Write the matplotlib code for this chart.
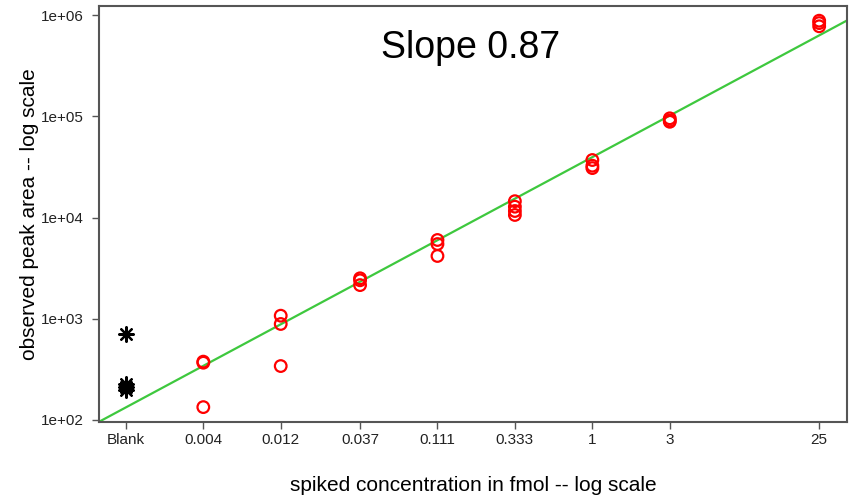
import numpy as np
import matplotlib
matplotlib.use("Agg")
import matplotlib.pyplot as plt

plt.rcParams['font.family'] = ['Liberation Sans', 'DejaVu Sans']

# Data
tick_labels = ["Blank", "0.004", "0.012", "0.037", "0.111", "0.333", "1", "3", "25"]
tick_values = [0.004 / 3, 0.004, 0.012, 0.037, 0.111, 0.333, 1.0, 3.0, 25.0]

blank_x = [0.004 / 3] * 4
blank_y = [706, 225, 212, 200]

spiked_x = [0.004, 0.004, 0.004,
            0.012, 0.012, 0.012,
            0.037, 0.037, 0.037,
            0.111, 0.111, 0.111,
            0.333, 0.333, 0.333, 0.333,
            1, 1, 1,
            3, 3, 3,
            25, 25, 25]
spiked_y = [377, 368, 134,
            1072, 888, 341,
            2510, 2400, 2150,
            6000, 5470, 4170,
            14500, 12800, 11600, 10600,
            37000, 32500, 30800,
            95500, 91000, 88300,
            880000, 834000, 775000]

fit_slope = 0.86
fit_at_one = 10 ** 4.597

xlim = (0.00091, 37.1)
ylim = (95.5, 1.23e6)

fig = plt.figure(figsize=(8.54, 4.98), dpi=100)
ax = fig.add_axes([0.1159, 0.1526, 0.9918 - 0.1159, 0.988 - 0.1526])
ax.set_xscale('log')
ax.set_yscale('log')
ax.set_xlim(*xlim)
ax.set_ylim(*ylim)

xs = np.array(xlim)
ax.plot(xs, fit_at_one * xs ** fit_slope, color='#3ec83e', lw=1.6, zorder=2)

ax.scatter(spiked_x, spiked_y, s=70, facecolors='none', edgecolors='#ff0000',
           linewidths=1.6, zorder=3)
ax.scatter(blank_x, blank_y, s=110, marker=(8, 2, 0), color='black',
           linewidths=1.6, zorder=3)

ax.set_xticks(tick_values)
ax.set_xticklabels(tick_labels)
ax.xaxis.set_minor_locator(matplotlib.ticker.NullLocator())
yt = [1e2, 1e3, 1e4, 1e5, 1e6]
ax.set_yticks(yt)
ax.set_yticklabels(["1e+02", "1e+03", "1e+04", "1e+05", "1e+06"])
ax.yaxis.set_minor_locator(matplotlib.ticker.NullLocator())

for sp in ax.spines.values():
    sp.set_color('#555555')
    sp.set_linewidth(1.5)
ax.tick_params(axis='both', direction='out', length=5, width=1, color='#555555',
               labelsize=11, labelcolor='#222222')
ax.tick_params(axis='x', pad=3)
ax.tick_params(axis='y', pad=6)

ax.set_xlabel("spiked concentration in fmol -- log scale", fontsize=15, labelpad=21)
ax.set_ylabel("observed peak area -- log scale", fontsize=15, labelpad=1)

ax.text(0.497, 0.9, "Slope 0.87", transform=ax.transAxes, fontsize=27,
        ha='center', va='center', color='black')

fig.savefig("out.png", dpi=100)
